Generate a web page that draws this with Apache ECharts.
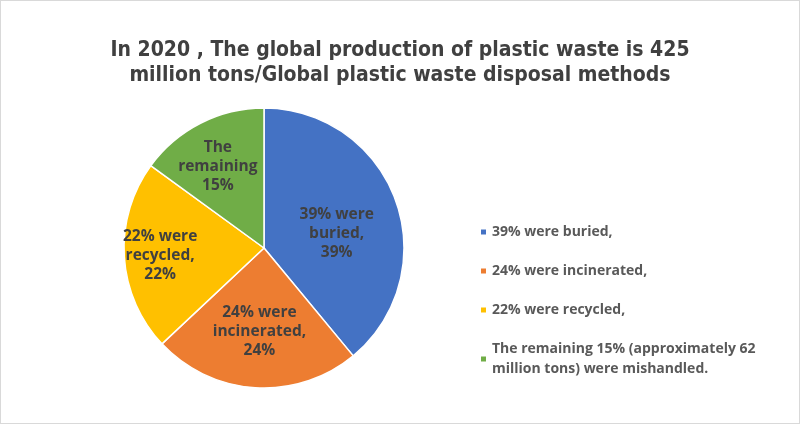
<!DOCTYPE html>
<html><head><meta charset="utf-8">
<script src="https://cdn.jsdelivr.net/npm/echarts@6/dist/echarts.min.js"></script>
<style>
html,body{margin:0;padding:0;background:#fff;}
#c{width:800px;height:424px;box-sizing:border-box;border:1px solid #d9d9d9;}
</style></head>
<body><div id="c"></div>
<script>
const titleText = "In 2020 , The global production of plastic waste is 425\nmillion tons/Global plastic waste disposal methods";
const names = ["39% were buried,", "24% were incinerated,", "22% were recycled,", "The remaining 15% (approximately 62 million tons) were mishandled."];
const legendTexts = ["39% were buried,", "24% were incinerated,", "22% were recycled,", "The remaining 15% (approximately 62\nmillion tons) were mishandled."];
const sliceLabels = ["39% were\nburied,\n39%", "24% were\nincinerated,\n24%", "22% were\nrecycled,\n22%", "The\nremaining\n15%"];
const values = [39, 24, 22, 15];
const colors = ["#4472C4", "#ED7D31", "#FFC000", "#70AD47"];
const labelOffsets = [[4, 10], [0, 11], [-31, 3], [-13, -16]];

const chart = echarts.init(document.getElementById('c'), null, {renderer: 'canvas'});
chart.setOption({
  animation: false,
  title: {
    text: titleText, left: 'center', top: 32,
    textStyle: {fontFamily: 'Liberation Sans Narrow, DejaVu Sans Condensed, sans-serif', fontWeight: 'bold', fontSize: 21, color: '#404040', lineHeight: 25}
  },
  legend: {
    orient: 'vertical', left: 473, top: 216, itemWidth: 7, itemHeight: 7, itemGap: 19, icon: 'rect',
    formatter: n => legendTexts[names.indexOf(n)],
    textStyle: {fontFamily: 'Open Sans, sans-serif', fontWeight: 'bold', fontSize: 14, color: '#595959', lineHeight: 20}
  },
  series: [{
    type: 'pie', center: [263, 247], radius: [0, 140], startAngle: 90, clockwise: true,
    itemStyle: {borderColor: '#fff', borderWidth: 1.5},
    label: {position: 'inside', fontFamily: 'Open Sans, sans-serif', fontWeight: 'bold', fontSize: 15.5, color: '#404040', lineHeight: 19},
    labelLine: {show: false},
    data: values.map((v, i) => ({
      name: names[i], value: v, itemStyle: {color: colors[i]},
      label: {formatter: sliceLabels[i], offset: labelOffsets[i]}
    }))
  }]
});
</script></body></html>
